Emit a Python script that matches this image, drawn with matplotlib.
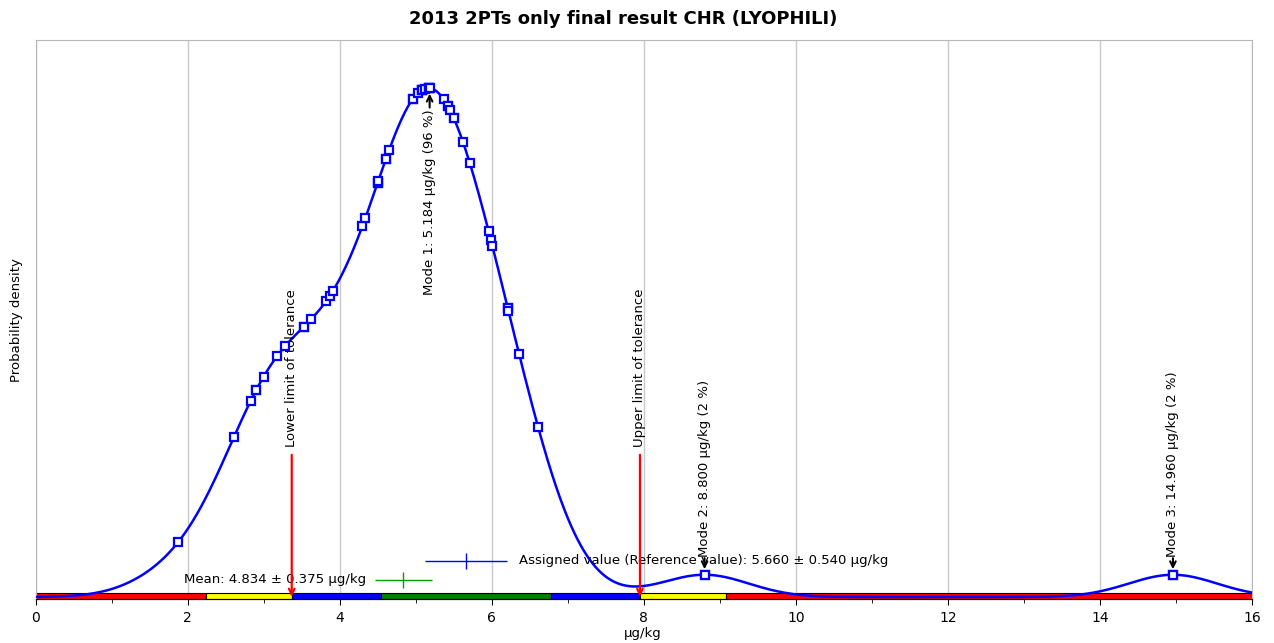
import numpy as np
import matplotlib.pyplot as plt
from matplotlib.transforms import blended_transform_factory

plt.rcParams['font.family'] = ['DejaVu Sans']

# risultati dei laboratori (µg/kg) (alcuni sovrapposti)
risultati = [1.88, 2.61, 2.83, 2.90, 2.90, 3.00, 3.18, 3.28, 3.53, 3.53, 3.63,
             3.82, 3.87, 3.91, 4.30, 4.34, 4.50, 4.50, 4.51,
             4.61, 4.61, 4.65, 4.96, 4.96, 5.03, 5.08, 5.08, 5.08, 5.12,
             5.18, 5.18, 5.18, 5.37, 5.42, 5.42, 5.45, 5.50, 5.50,
             5.62, 5.71, 5.96, 5.99, 6.01, 6.21, 6.21, 6.22, 6.36, 6.61,
             8.80, 14.96]
banda = 0.58

# mode
mode_x = [5.184, 8.800, 14.960]
mode_pct = [96, 2, 2]

# valore assegnato e media
assegnato, u_ass = 5.660, 0.540
media, u_media = 4.834, 0.375
tol_bassa, tol_alta = 3.37, 7.95

# fasce colorate
bordi = [0, 2.24, 3.37, 4.54, 6.78, 7.95, 9.08, 16]
colori = ['red', 'yellow', 'blue', 'green', 'blue', 'yellow', 'red']

def densita(x):
    x = np.asarray(x, dtype=float)
    d = np.zeros_like(x)
    for r in risultati:
        d += np.exp(-0.5 * ((x - r) / banda) ** 2)
    return d / (len(risultati) * banda * np.sqrt(2 * np.pi))

xx = np.linspace(0, 16, 1200)
yy = densita(xx)
picco = yy.max()

fig = plt.figure(figsize=(12.74, 6.43), dpi=100)
ax = fig.add_axes([35.5 / 1274, 1 - 599 / 643, (1252 - 35.5) / 1274, 559 / 643])
ax.set_xlim(0, 16)
ax.set_ylim(-2 / 509 * picco, 557 / 509 * picco)
tr = blended_transform_factory(ax.transData, ax.transAxes)

# griglia
ax.set_xticks(np.arange(0, 17, 2))
ax.set_xticks(np.arange(0, 17, 1), minor=True)
ax.set_yticks([])
ax.grid(axis='x', which='major', color='#c8c8c8', lw=1)
ax.set_axisbelow(True)
for s in ['left', 'top', 'right']:
    ax.spines[s].set_color('#b8b8b8')
ax.spines['bottom'].set_color('black')
ax.tick_params(axis='x', which='major', length=4, labelsize=10, pad=5)
ax.tick_params(axis='x', which='minor', length=3)

# fasce
for i, c in enumerate(colori):
    ax.add_patch(plt.Rectangle((bordi[i], 0), bordi[i + 1] - bordi[i], 0.0115,
                               transform=tr, facecolor=c, edgecolor='black',
                               lw=0.8, zorder=2, clip_on=False))

# curva e punti
ax.plot(xx, yy, color='blue', lw=1.8, zorder=3)
ax.plot(risultati, densita(risultati), 's', color='blue', mfc='white',
        mew=1.6, ms=6, zorder=4)

# mode
for i, (m, p) in enumerate(zip(mode_x, mode_pct)):
    ym = densita([m])[0]
    ax.plot(m, ym, 's', color='blue', mfc='white', mew=1.6, ms=6, zorder=5)
    testo = f"Mode {i + 1}: {m:.3f} µg/kg ({p} %)"
    if i == 0:
        ax.annotate('', xy=(m, ym), xytext=(0, -14), textcoords='offset points',
                    arrowprops=dict(arrowstyle='->', color='black', lw=1.5,
                                    shrinkA=0, shrinkB=4), zorder=6)
        ax.annotate(testo, xy=(m, ym), xytext=(0, -15), textcoords='offset points',
                    rotation=90, ha='center', va='top', fontsize=9.5)
    else:
        ax.annotate('', xy=(m, ym), xytext=(0, 12), textcoords='offset points',
                    arrowprops=dict(arrowstyle='->', color='black', lw=1.5,
                                    shrinkA=0, shrinkB=4), zorder=6)
        ax.annotate(testo, xy=(m, ym), xytext=(0, 13), textcoords='offset points',
                    rotation=90, ha='center', va='bottom', fontsize=9.5)

# limiti di tolleranza
for xt, lab in [(tol_bassa, 'Lower limit of tolerance'), (tol_alta, 'Upper limit of tolerance')]:
    ax.annotate('', xy=(xt, 0.004), xytext=(xt, 0.258), xycoords=tr, textcoords=tr,
                arrowprops=dict(arrowstyle='->', color='red', lw=1.6,
                                shrinkA=0, shrinkB=0), zorder=6)
    ax.text(xt, 0.272, lab, transform=tr, rotation=90, ha='center', va='bottom',
            fontsize=9.5)

# valore assegnato e media
ax.errorbar(assegnato, 0.068, xerr=u_ass, transform=tr, color='blue', lw=1,
            marker='|', ms=12, mew=1, capsize=0, zorder=6)
ax.annotate(f"Assigned value (Reference value): {assegnato:.3f} ± {u_ass:.3f} µg/kg",
            xy=(assegnato + u_ass, 0.068), xycoords=tr, xytext=(9, 0),
            textcoords='offset points', va='center', ha='left', fontsize=9.5)
ax.errorbar(media, 0.034, xerr=u_media, transform=tr, color='#00a000', lw=1,
            marker='|', ms=12, mew=1, capsize=0, zorder=6)
ax.annotate(f"Mean: {media:.3f} ± {u_media:.3f} µg/kg",
            xy=(media - u_media, 0.034), xycoords=tr, xytext=(-6, 0),
            textcoords='offset points', va='center', ha='right', fontsize=9.5)

fig.text(623 / 1274, 1 - 19 / 643, "2013 2PTs only final result CHR (LYOPHILI)",
         ha='center', va='center', fontsize=13, fontweight='bold')
fig.text(643 / 1274, 1 - 634 / 643, "µg/kg", ha='center', va='center', fontsize=9.5)
fig.text(17 / 1274, 1 - 320 / 643, "Probability density", rotation=90,
         ha='center', va='center', fontsize=9.5)

fig.savefig('out.png', dpi=100)
